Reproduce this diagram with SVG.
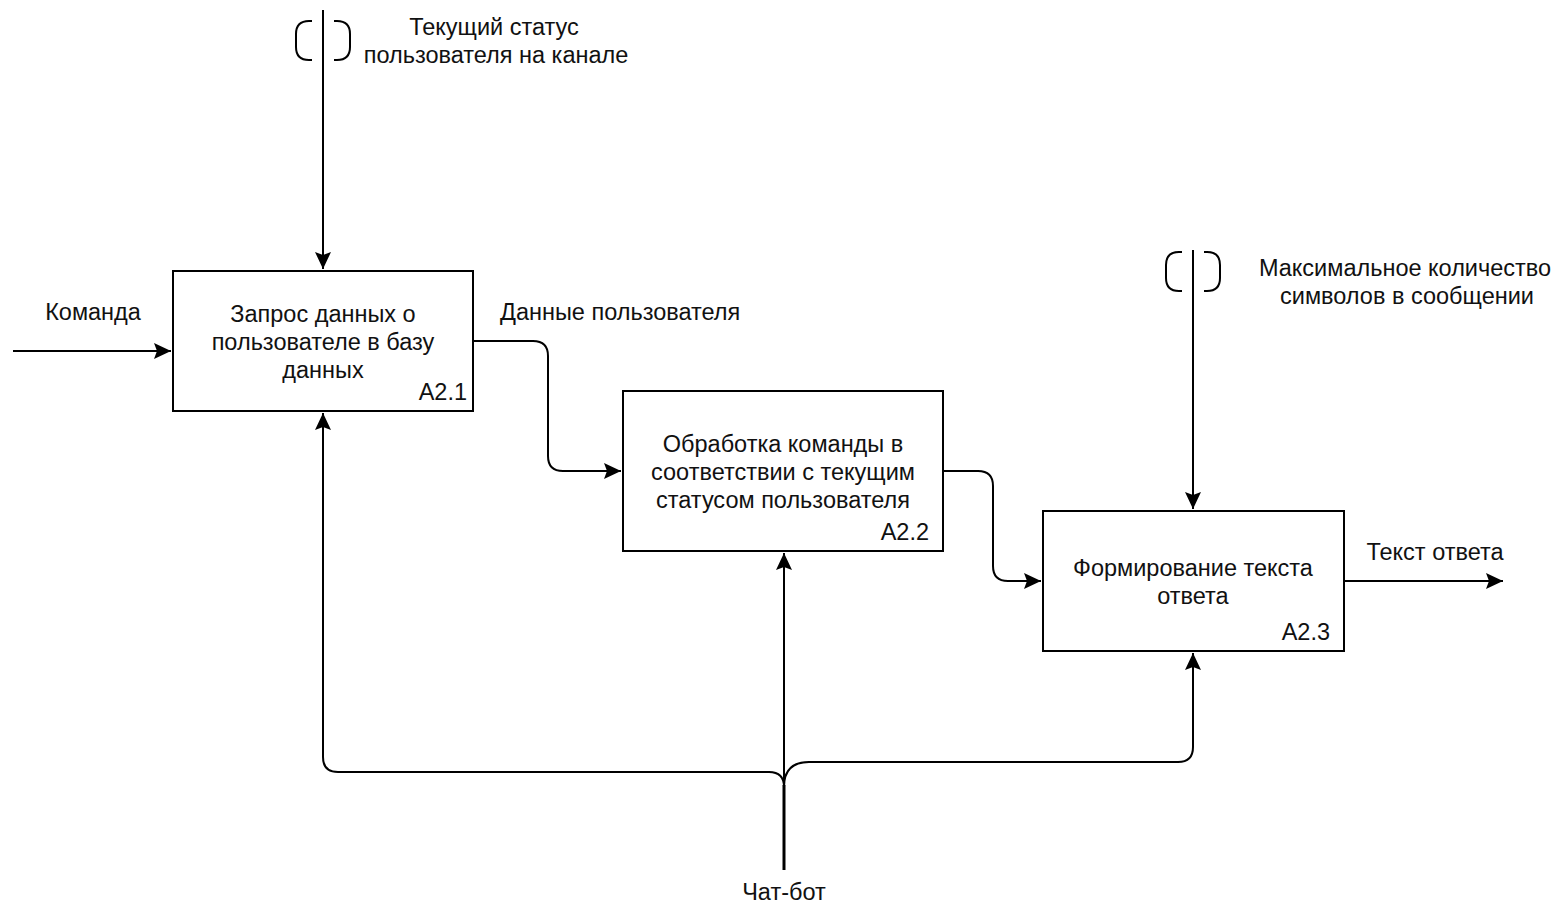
<svg xmlns="http://www.w3.org/2000/svg" width="1559" height="907" viewBox="0 0 1559 907">
  <defs>
    <marker id="arrow" viewBox="0 0 17 16" refX="17" refY="8" markerWidth="17" markerHeight="16" markerUnits="userSpaceOnUse" orient="auto">
      <path d="M0,0 L17,8 L0,16 L3,8 Z" fill="#000"/>
    </marker>
    <style>
      .box { fill: #fff; stroke: #000; stroke-width: 2; }
      .line { fill: none; stroke: #000; stroke-width: 2; }
      .tunnel { fill: none; stroke: #000; stroke-width: 2; }
      text { font-family: "Liberation Sans", Arial, sans-serif; font-size: 23.5px; fill: #111; }
      .c { text-anchor: middle; }
      .r { text-anchor: end; }
    </style>
  </defs>
  <rect width="1559" height="907" fill="#fff"/>

  <g id="connectors">
    <!-- control into A2.1 -->
    <path class="line" d="M323,10 L323,269" marker-end="url(#arrow)"/>
    <path class="tunnel" d="M312,21 L309,21 Q296,21 296,34 L296,47 Q296,60 309,60 L312,60 M334,21 L337,21 Q350,21 350,34 L350,47 Q350,60 337,60 L334,60"/>
    <!-- input -->
    <path class="line" d="M13,351 L171,351" marker-end="url(#arrow)"/>
    <!-- A2.1 to A2.2 -->
    <path class="line" d="M473,341 L533,341 Q548,341 548,356 L548,456 Q548,471 563,471 L621,471" marker-end="url(#arrow)"/>
    <!-- A2.2 to A2.3 -->
    <path class="line" d="M943,471 L978,471 Q993,471 993,486 L993,566 Q993,581 1008,581 L1041,581" marker-end="url(#arrow)"/>
    <!-- control into A2.3 -->
    <path class="line" d="M1193,250 L1193,509" marker-end="url(#arrow)"/>
    <path class="tunnel" d="M1182,252 L1179,252 Q1166,252 1166,265 L1166,278 Q1166,291 1179,291 L1182,291 M1204,252 L1207,252 Q1220,252 1220,265 L1220,278 Q1220,291 1207,291 L1204,291"/>
    <!-- output -->
    <path class="line" d="M1344,581 L1503,581" marker-end="url(#arrow)"/>
    <!-- mechanism -->
    <path class="line" d="M784,870 L784,553" marker-end="url(#arrow)"/>
    <path class="line" style="stroke-width:3" d="M784,870 L784,785"/>
    <path class="line" d="M784,787 Q784,772 769,772 L338,772 Q323,772 323,757 L323,413" marker-end="url(#arrow)"/>
    <path class="line" d="M784,787 Q784,762 809,762 L1178,762 Q1193,762 1193,747 L1193,653" marker-end="url(#arrow)"/>
  </g>

  <g id="A2.1">
    <rect class="box" x="173" y="271" width="300" height="140"/>
    <text class="c" x="323" y="322">Запрос данных о</text>
    <text class="c" x="323" y="350">пользователе в базу</text>
    <text class="c" x="323" y="378">данных</text>
    <text class="r" x="467" y="400">A2.1</text>
  </g>

  <g id="A2.2">
    <rect class="box" x="623" y="391" width="320" height="160"/>
    <text class="c" x="783" y="452">Обработка команды в</text>
    <text class="c" x="783" y="480">соответствии с текущим</text>
    <text class="c" x="783" y="508">статусом пользователя</text>
    <text class="r" x="929" y="540">A2.2</text>
  </g>

  <g id="A2.3">
    <rect class="box" x="1043" y="511" width="301" height="140"/>
    <text class="c" x="1193" y="576">Формирование текста</text>
    <text class="c" x="1193" y="604">ответа</text>
    <text class="r" x="1330" y="640">A2.3</text>
  </g>

  <g id="labels">
    <text class="c" x="494" y="35">Текущий статус</text>
    <text class="c" x="496" y="63">пользователя на канале</text>
    <text class="c" x="93" y="320">Команда</text>
    <text x="500" y="320">Данные пользователя</text>
    <text class="c" x="1405" y="276">Максимальное количество</text>
    <text class="c" x="1407" y="304">символов в сообщении</text>
    <text class="c" x="1435" y="560">Текст ответа</text>
    <text class="c" x="784" y="900">Чат-бот</text>
  </g>
</svg>
